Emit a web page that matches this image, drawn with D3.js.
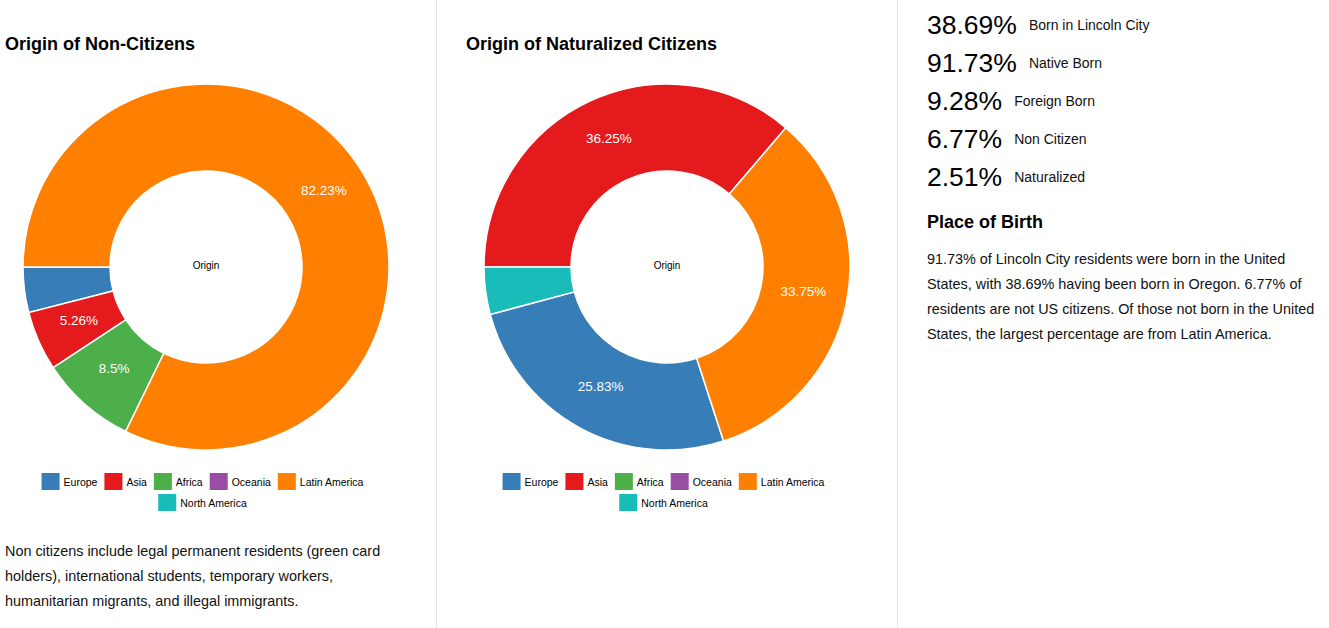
<!DOCTYPE html>
<html><head><meta charset="utf-8">
<script src="https://cdn.jsdelivr.net/npm/d3@7"></script>
<style>
body{margin:0;background:#fff;font-family:"Liberation Sans",Arial,sans-serif;color:#000;}
#root{position:relative;width:1329px;height:628px;overflow:hidden;}
svg{position:absolute;left:0;top:0;}
.para{position:absolute;font-size:14.4px;line-height:25px;color:#111;}
</style></head><body><div id="root"></div>
<script>
const regions = ["Europe","Asia","Africa","Oceania","Latin America","North America"];
const regionColors = ["#377eb8","#e41a1c","#4daf4a","#984ea3","#ff7f00","#1abcb9"];
const nonCitizenValues = [4.01, 5.26, 8.5, 0, 82.23, 0];
const naturalizedValues = [25.83, 36.25, 0, 0, 33.75, 4.17];
const chartTitles = ["Origin of Non-Citizens","Origin of Naturalized Citizens"];
const centerTitle = "Origin";
const statValues = ["38.69%","91.73%","9.28%","6.77%","2.51%"];
const statLabels = ["Born in Lincoln City","Native Born","Foreign Born","Non Citizen","Naturalized"];
const sideTitle = "Place of Birth";
const sideText = "91.73% of Lincoln City residents were born in the United States, with 38.69% having been born in Oregon. 6.77% of residents are not US citizens. Of those not born in the United States, the largest percentage are from Latin America.";
const noteText = "Non citizens include legal permanent residents (green card holders), international students, temporary workers, humanitarian migrants, and illegal immigrants.";

const root = d3.select("#root");
const svg = root.append("svg").attr("width",1329).attr("height",628);

// dividers
svg.selectAll("line.div").data([436.5, 897.5]).join("line")
  .attr("x1",d=>d).attr("x2",d=>d).attr("y1",0).attr("y2",628)
  .attr("stroke","#e3e3e3").attr("stroke-width",1);

const color = d3.scaleOrdinal().domain(regions).range(regionColors);
const pie = d3.pie().value(d=>d.value).sort((a,b)=>b.value-a.value)
  .startAngle(-Math.PI/2).endAngle(Math.PI*1.5);
const R = 183, r = 96;
const arc = d3.arc().outerRadius(R).innerRadius(r);
const labelArc = d3.arc().outerRadius(139).innerRadius(139);

function donut(values, cx, titleX, title){
  svg.append("text").attr("x",titleX).attr("y",50)
    .attr("font-size",18).attr("font-weight","bold").text(title);
  const data = regions.map((k,i)=>({key:k,value:values[i]}));
  const g = svg.append("g").attr("transform",`translate(${cx},267)`);
  const arcs = pie(data).filter(d=>d.value>0);
  g.selectAll("path").data(arcs).join("path")
    .attr("d",arc).attr("fill",d=>color(d.data.key))
    .attr("stroke","#fff").attr("stroke-width",1.5);
  g.selectAll("text.lbl").data(arcs.filter(d=>d.value>=5)).join("text")
    .attr("class","lbl")
    .attr("transform",d=>{const c=labelArc.centroid(d);return `translate(${c[0]},${c[1]-3})`;})
    .attr("dy","0.35em").attr("text-anchor","middle")
    .attr("fill","#fff").attr("font-size",13.5).text(d=>d.value+"%");
  g.append("text").attr("y",1.5).attr("text-anchor","middle")
    .attr("font-size",10).text(centerTitle);

  // legend
  const lg = svg.append("g");
  const items = lg.selectAll("g").data(regions).join("g");
  items.append("rect").attr("width",18).attr("height",17).attr("fill",d=>color(d));
  items.append("text").attr("x",22).attr("y",12.5).attr("font-size",10.5).text(d=>d);
  const widths = [];
  items.each(function(){ widths.push(29 + d3.select(this).select("text").node().getComputedTextLength()); });
  const maxW = 400; const rows=[[]]; let cur=0;
  widths.forEach((w,i)=>{ if(cur+w>maxW && rows[rows.length-1].length){rows.push([]);cur=0;} rows[rows.length-1].push(i); cur+=w; });
  rows.forEach((row,ri)=>{
    const tot = d3.sum(row,i=>widths[i]);
    let x = cx - tot/2;
    row.forEach(i=>{ d3.select(items.nodes()[i]).attr("transform",`translate(${x},${473+ri*21})`); x+=widths[i]; });
  });
}
donut(nonCitizenValues, 206, 5, chartTitles[0]);
donut(naturalizedValues, 667, 466, chartTitles[1]);

// stats
const sg = svg.append("g");
statValues.forEach((v,i)=>{
  const y = 34.3 + i*37.9;
  const t = sg.append("text").attr("x",927).attr("y",y).attr("font-size",26.5).text(v);
  const w = t.node().getComputedTextLength();
  sg.append("text").attr("x",927+w+12).attr("y",y-4).attr("font-size",14).attr("fill","#111").text(statLabels[i]);
});
svg.append("text").attr("x",927).attr("y",227.7).attr("font-size",18).attr("font-weight","bold").text(sideTitle);

root.append("div").attr("class","para").style("left","927px").style("top","246.5px").style("width","392px").text(sideText);
root.append("div").attr("class","para").style("left","5px").style("top","538.5px").style("width","395px").text(noteText);
</script></body></html>
